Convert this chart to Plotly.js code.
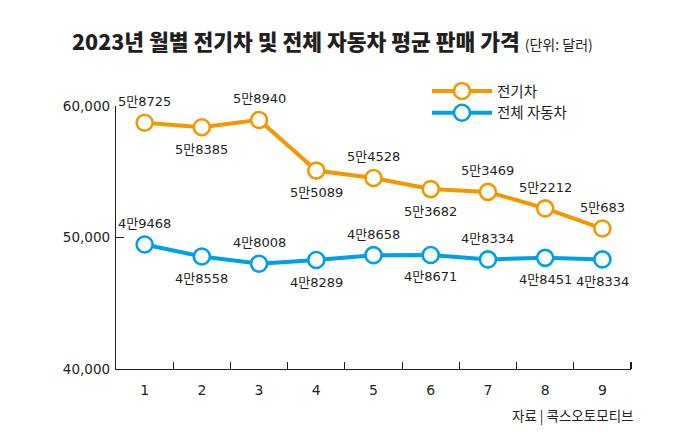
<!DOCTYPE html>
<html>
<head>
<meta charset="utf-8">
<script src="https://cdn.plot.ly/plotly-3.0.1.min.js"></script>
<style>
html,body{margin:0;padding:0;background:#fff;}
#chart{width:700px;height:432px;}
</style>
</head>
<body>
<div id="chart"></div>
<script>
// ---- data ----
const months = [1, 2, 3, 4, 5, 6, 7, 8, 9];
const evPrices = [58725, 58385, 58940, 55089, 54528, 53682, 53469, 52212, 50683];
const allPrices = [49468, 48558, 48008, 48289, 48658, 48671, 48334, 48451, 48334];
const seriesNames = ['전기차', '전체 자동차'];
const yTickVals = [40000, 50000, 60000];
const yTickText = ['40,000', '50,000', '60,000'];
const xTickText = ['1', '2', '3', '4', '5', '6', '7', '8', '9'];

// label placement (1 = above, -1 = below)
const evLabelSide = [1, -1, 1, -1, 1, -1, 1, 1, 1];
const allLabelSide = [1, -1, 1, -1, 1, -1, 1, -1, -1];

const ORANGE = '#F39800';
const BLUE = '#00A0E9';
const TEXT = '#231F20';
const LABEL_FONT = 'DejaVu Sans, Noto Sans CJK KR, sans-serif';
const KR_FONT = 'Noto Sans CJK KR, sans-serif';

function fmt(v) {
  return Math.floor(v / 10000) + '만' + (v % 10000);
}

function makeTrace(y, name, color) {
  return {
    x: months, y: y, name: name, type: 'scatter', mode: 'lines+markers',
    line: {color: color, width: 4},
    marker: {size: 16, color: '#ffffff', line: {color: color, width: 2.6}},
    cliponaxis: false
  };
}

const traces = [
  makeTrace(evPrices, seriesNames[0], ORANGE),
  makeTrace(allPrices, seriesNames[1], BLUE)
];

const annotations = [];
function addLabels(vals, sides) {
  vals.forEach((v, i) => {
    annotations.push({
      x: months[i], y: v, xref: 'x', yref: 'y', text: fmt(v), showarrow: false,
      yshift: sides[i] > 0 ? 21 : -22, xanchor: 'center', yanchor: 'middle',
      font: {family: LABEL_FONT, size: 13, color: TEXT}
    });
  });
}
addLabels(evPrices, evLabelSide);
addLabels(allPrices, allLabelSide);

annotations.push({
  text: '자료 | 콕스오토모티브', xref: 'paper', yref: 'paper',
  x: 1.008, y: -0.175, xanchor: 'right', yanchor: 'middle', showarrow: false,
  font: {family: KR_FONT, size: 13.5, color: TEXT}
});

const layout = {
  width: 700, height: 432,
  margin: {l: 116, r: 69, t: 106, b: 63},
  paper_bgcolor: '#ffffff', plot_bgcolor: '#ffffff',
  title: {
    text: '2023년 월별 전기차 및 전체 자동차 평균 판매 가격 <span style="font-size:14px;font-weight:normal">(단위: 달러)</span>',
    xref: 'container', yref: 'container', x: 72 / 700, xanchor: 'left',
    y: 1 - 42 / 432, yanchor: 'middle',
    font: {family: KR_FONT, size: 21.5, color: TEXT, weight: 900}
  },
  xaxis: {
    range: [0.5, 9.5], tickmode: 'array', tickvals: months, ticktext: xTickText,
    ticks: '', showgrid: false, zeroline: false,
    showline: true, linecolor: TEXT, linewidth: 1.2,
    tickfont: {family: LABEL_FONT, size: 14, color: TEXT}, ticklabelstandoff: 8,
    minor: {tickmode: 'array', tickvals: [1.5, 2.5, 3.5, 4.5, 5.5, 6.5, 7.5, 8.5, 9.5],
            ticks: 'inside', ticklen: 7, tickwidth: 1.2, tickcolor: TEXT, showgrid: false},
    fixedrange: true
  },
  yaxis: {
    range: [40000, 60000], tickmode: 'array', tickvals: yTickVals, ticktext: yTickText,
    ticks: 'inside', ticklen: 8, tickwidth: 1.2, tickcolor: TEXT,
    showgrid: false, zeroline: false, showline: true, linecolor: TEXT, linewidth: 1.2,
    tickfont: {family: LABEL_FONT, size: 13.5, color: TEXT}, ticklabelstandoff: 2,
    fixedrange: true
  },
  showlegend: true,
  legend: {
    x: (427 - 116) / 515, y: (369 - 75) / 263, xanchor: 'left', yanchor: 'top',
    bgcolor: 'rgba(0,0,0,0)', tracegroupgap: 0,
    font: {family: KR_FONT, size: 14.5, color: TEXT},
    itemwidth: 60
  },
  annotations: annotations
};

Plotly.newPlot('chart', traces, layout, {displayModeBar: false, staticPlot: true});
</script>
</body>
</html>
